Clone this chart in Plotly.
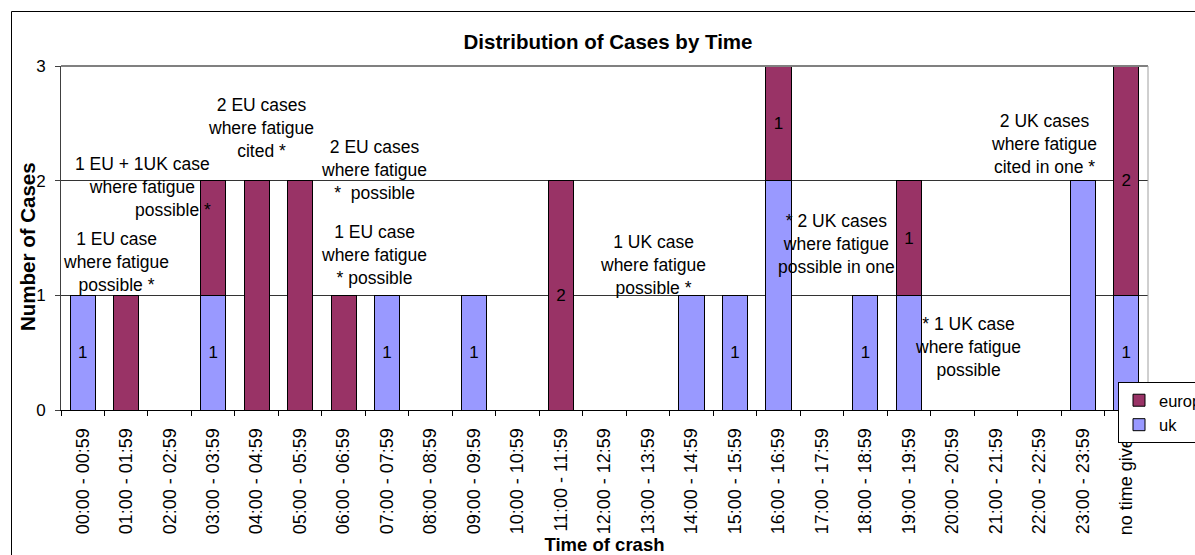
import plotly.graph_objects as go

# --- data -------------------------------------------------------------
time_bands = [
    "00:00 - 00:59", "01:00 - 01:59", "02:00 - 02:59", "03:00 - 03:59",
    "04:00 - 04:59", "05:00 - 05:59", "06:00 - 06:59", "07:00 - 07:59",
    "08:00 - 08:59", "09:00 - 09:59", "10:00 - 10:59", "11:00 - 11:59",
    "12:00 - 12:59", "13:00 - 13:59", "14:00 - 14:59", "15:00 - 15:59",
    "16:00 - 16:59", "17:00 - 17:59", "18:00 - 18:59", "19:00 - 19:59",
    "20:00 - 20:59", "21:00 - 21:59", "22:00 - 22:59", "23:00 - 23:59",
    "no time given",
]
uk_cases = [1, 0, 0, 1, 0, 0, 0, 1, 0, 1, 0, 0, 0, 0, 1, 1, 2, 0, 1, 1, 0, 0, 0, 2, 1]
europe_cases = [0, 1, 0, 1, 2, 2, 1, 0, 0, 0, 0, 2, 0, 0, 0, 0, 1, 0, 0, 1, 0, 0, 0, 0, 2]

# which segments carry a value label
uk_labelled = [1, 0, 0, 1, 0, 0, 0, 1, 0, 1, 0, 0, 0, 0, 0, 1, 0, 0, 1, 0, 0, 0, 0, 0, 1]
europe_labelled = [0, 0, 0, 0, 0, 0, 0, 0, 0, 0, 0, 1, 0, 0, 0, 0, 1, 0, 0, 1, 0, 0, 0, 0, 1]

y_ticks = [0, 1, 2, 3]

# free-text notes placed over the chart
notes = [
    "1 EU case<br>where fatigue<br>possible *",
    "1 EU + 1UK case<br>where fatigue",
    "possible *",
    "2 EU cases<br>where fatigue<br>cited *",
    "2 EU cases<br>where fatigue<br>*  possible",
    "1 EU case<br>where fatigue<br>* possible",
    "1 UK case<br>where fatigue<br>possible *",
    "* 2 UK cases<br>where fatigue<br>possible in one",
    "2 UK cases<br>where fatigue<br>cited in one *",
    "* 1 UK case<br>where fatigue<br>possible",
]
# (pixel x, pixel y, x anchor) of each note
note_pos = [
    (116, 262, "center"),
    (142, 175, "center"),
    (133, 210, "left"),
    (261, 128, "center"),
    (374, 170, "center"),
    (374, 255, "center"),
    (653, 265, "center"),
    (836, 244, "center"),
    (1044, 144, "center"),
    (968, 347, "center"),
]

# --- layout geometry (pixels) -----------------------------------------
FIG_W, FIG_H = 1195, 555
L, R, T, B = 61, 1148, 66, 410
FONT = "Liberation Sans, Arial, sans-serif"


def px_x(px):
    return (px - L) / (R - L)


def px_y(py):
    return (B - py) / (B - T)


UK_COLOR = "#9999FF"
EU_COLOR = "#993366"

fig = go.Figure()
fig.add_trace(go.Bar(
    name="uk", x=time_bands, y=uk_cases,
    text=[str(v) if f else "" for v, f in zip(uk_cases, uk_labelled)],
    textposition="inside", insidetextanchor="middle", textangle=0,
    textfont=dict(family=FONT, size=17, color="black"),
    marker=dict(color=UK_COLOR, line=dict(color="black", width=1)),
    legendgroup="uk", legendrank=2, hoverinfo="x+y+name",
))
fig.add_trace(go.Bar(
    name="europe", x=time_bands, y=europe_cases,
    text=[str(v) if f else "" for v, f in zip(europe_cases, europe_labelled)],
    textposition="inside", insidetextanchor="middle", textangle=0,
    textfont=dict(family=FONT, size=17, color="black"),
    marker=dict(color=EU_COLOR, line=dict(color="black", width=1)),
    legendgroup="europe", legendrank=1, hoverinfo="x+y+name",
))

annotations = []
for txt, (nx, ny, anchor) in zip(notes, note_pos):
    annotations.append(dict(
        text=txt, xref="paper", yref="paper", x=px_x(nx), y=px_y(ny),
        xanchor=anchor, yanchor="middle", align="center", showarrow=False,
        font=dict(family=FONT, size=17.5, color="black"),
    ))

# y-axis title
annotations.append(dict(
    text="<b>Number of Cases</b>", xref="paper", yref="paper",
    x=px_x(27), y=px_y(247), xanchor="center", yanchor="middle",
    textangle=-90, showarrow=False,
    font=dict(family=FONT, size=20.5, color="black"),
))

shapes = [
    # outer chart frame (runs off the right and bottom edges)
    dict(type="rect", xref="paper", yref="paper",
         x0=px_x(11.5), x1=px_x(1210), y0=px_y(570), y1=px_y(11.5),
         line=dict(color="black", width=1), layer="below"),
    # plot-area border, top and right
    dict(type="line", xref="paper", yref="paper", x0=0, x1=1, y0=1, y1=1,
         line=dict(color="#808080", width=2)),
    dict(type="line", xref="paper", yref="paper", x0=1, x1=1, y0=0, y1=1,
         line=dict(color="#a0a0a0", width=1)),
]

fig.update_layout(
    width=FIG_W, height=FIG_H,
    margin=dict(l=L, r=FIG_W - R, t=T, b=FIG_H - B, pad=0, autoexpand=False),
    paper_bgcolor="white", plot_bgcolor="white",
    barmode="stack", bargap=0.42,
    font=dict(family=FONT, color="black"),
    title=dict(
        text="Distribution of Cases by Time",
        font=dict(family=FONT, size=20.5, color="black", weight="bold"),
        xref="paper", x=px_x(608), xanchor="center",
        yref="container", y=1 - 42 / FIG_H, yanchor="middle",
    ),
    xaxis=dict(
        type="category", tickangle=-90, tickson="boundaries",
        ticks="outside", ticklen=5, tickcolor="black", tickwidth=1,
        showline=True, linecolor="black", linewidth=1,
        showgrid=False, automargin=False, ticklabelstandoff=10,
        tickfont=dict(family=FONT, size=18, color="black"),
        title=dict(text="Time of crash", standoff=5,
                   font=dict(family=FONT, size=18.5, color="black", weight="bold")),
    ),
    yaxis=dict(
        range=[0, 3], tickvals=y_ticks, ticks="outside", ticklen=5,
        tickcolor="#404040", showline=True, linecolor="#404040", linewidth=1,
        showgrid=True, gridcolor="#333333", gridwidth=1, zeroline=False,
        automargin=False, ticklabelstandoff=6,
        tickfont=dict(family=FONT, size=17, color="black"),
    ),
    legend=dict(
        x=px_x(1118), y=px_y(382), xanchor="left", yanchor="top",
        bgcolor="white", bordercolor="black", borderwidth=1,
        traceorder="grouped", tracegroupgap=0, itemwidth=30,
        font=dict(family=FONT, size=16.5, color="black"),
    ),
    annotations=annotations,
    shapes=shapes,
)

fig.write_html("out.html")
